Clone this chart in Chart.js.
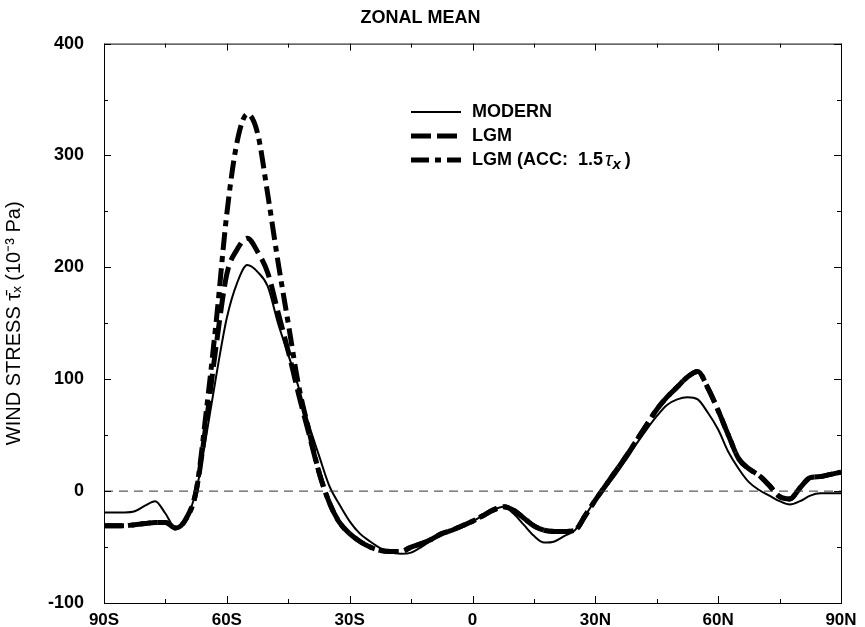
<!DOCTYPE html>
<html>
<head>
<meta charset="utf-8">
<script src="https://cdn.jsdelivr.net/npm/chart.js@4/dist/chart.umd.min.js"></script>
<style>
  html, body { margin: 0; padding: 0; background: #fff; }
  #wrap { width: 865px; height: 627px; }
</style>
</head>
<body>
<div id="wrap"><canvas id="chart"></canvas></div>
<script>
// latitude every 2.5 degrees, 90S .. 90N
const lats = []
for (let l = -90; l <= 90; l += 2.5) lats.push(l)

const modern = [
  -19, -19, -19, -18, -13, -9, -20, -33, -25, 0,
  50, 105, 155, 186, 202, 196, 183, 150, 122, 93,
  60, 32, 5, -12, -27, -38, -45, -51, -55, -56,
  -55, -50, -44, -39, -35, -31, -27, -22, -17, -14,
  -20, -30, -40, -46, -45, -40, -35, -22, -8, 3,
  15, 28, 42, 55, 67, 77, 82, 84, 82, 70,
  55, 35, 20, 8, 1, -4, -9, -12, -9, -4,
  -2, -2, -2
]

const lgm = [
  -31, -31, -31, -30, -29, -28, -28, -33, -25, 0,
  62, 133, 194, 216, 226, 214, 195, 160, 125, 87,
  52, 17, -10, -28, -38, -45, -50, -53, -54, -54,
  -50, -47, -43, -38, -35, -31, -27, -22, -17, -14,
  -17, -24, -31, -35, -36, -36, -35, -22, -8, 5,
  18, 31, 45, 59, 73, 84, 93, 102, 107, 92,
  72, 50, 29, 20, 14, 5, -5, -7, 3, 12,
  13, 15, 17
]

const lgmAcc = [
  -31, -31, -31, -30, -29, -28, -28, -33, -25, 0,
  72, 155, 248, 312, 337, 320, 265, 205, 150, 95,
  55, 17, -10, -28, -38, -45, -50, -53, -54, -54,
  -50, -47, -43, -38, -35, -31, -27, -22, -17, -14,
  -17, -24, -31, -35, -36, -36, -35, -22, -8, 5,
  18, 31, 45, 59, 73, 84, 93, 102, 107, 92,
  72, 50, 29, 20, 14, 5, -5, -7, 3, 12,
  13, 15, 17
]

const zeroLine = [0, 0]
const zeroLats = [-90, 90]

const xTickLabels = { '-90': '90S', '-60': '60S', '-30': '30S', '0': '0', '30': '30N', '60': '60N', '90': '90N' }
const yTickLabels = [-100, 0, 100, 200, 300, 400]

const pts = (xs, ys) => xs.map((x, i) => ({ x: x, y: ys[i] }))

const FONT = "'Liberation Sans', Arial, sans-serif"
Chart.defaults.color = '#000'
Chart.defaults.font.family = FONT

// frame, inward ticks and in-plot legend
const frame = {
  id: 'frame',
  afterDraw(chart) {
    const { ctx, chartArea: a, scales: { x, y } } = chart
    ctx.save()
    ctx.strokeStyle = '#000'
    ctx.lineWidth = 1
    ctx.strokeRect(a.left + 0.5, a.top + 0.5, a.right - a.left, a.bottom - a.top)
    ctx.beginPath()
    for (let v = -90; v <= 90; v += 15) {
      const px = Math.round(x.getPixelForValue(v)) + 0.5
      const len = v % 30 === 0 ? 7 : 4
      ctx.moveTo(px, a.bottom); ctx.lineTo(px, a.bottom - len)
      ctx.moveTo(px, a.top); ctx.lineTo(px, a.top + len)
    }
    for (let v = -100; v <= 400; v += 50) {
      const py = Math.round(y.getPixelForValue(v)) + 0.5
      const len = v % 100 === 0 ? 7 : 4
      ctx.moveTo(a.left, py); ctx.lineTo(a.left + len, py)
      ctx.moveTo(a.right, py); ctx.lineTo(a.right - len, py)
    }
    ctx.stroke()

    // legend
    const items = [
      { label: 'MODERN', width: 2, dash: [] },
      { label: 'LGM', width: 5, dash: [20, 6] },
      { label: 'LGM (ACC:  1.5', width: 5, dash: [18, 6, 6, 6] }
    ]
    const lx = 411, ly = 112, step = 24
    ctx.font = 'bold 18px ' + FONT
    ctx.textBaseline = 'middle'
    items.forEach((it, i) => {
      const yy = ly + i * step
      ctx.beginPath()
      ctx.lineWidth = it.width
      ctx.setLineDash(it.dash)
      ctx.moveTo(lx, yy); ctx.lineTo(lx + 50, yy)
      ctx.stroke()
      ctx.setLineDash([])
      ctx.fillStyle = '#000'
      ctx.fillText(it.label, lx + 61, yy)
      if (i === 2) {
        let tx = lx + 61 + ctx.measureText(it.label).width + 2
        ctx.font = 'italic 20px ' + FONT
        ctx.fillText('τ', tx, yy)
        tx += ctx.measureText('τ').width
        ctx.font = 'bold italic 15px ' + FONT
        ctx.fillText('x', tx, yy + 5)
        tx += ctx.measureText('x').width + 4
        ctx.font = 'bold 18px ' + FONT
        ctx.fillText(')', tx, yy)
      }
    })
    ctx.restore()
  }
}

new Chart(document.getElementById('chart'), {
  type: 'line',
  data: {
    datasets: [
      {
        label: 'zero',
        data: pts(zeroLats, zeroLine),
        borderColor: '#333',
        borderWidth: 1,
        borderDash: [9, 6],
        pointRadius: 0
      },
      {
        label: 'MODERN',
        data: pts(lats, modern),
        borderColor: '#000',
        borderWidth: 2,
        pointRadius: 0,
        cubicInterpolationMode: 'monotone'
      },
      {
        label: 'LGM',
        data: pts(lats, lgm),
        borderColor: '#000',
        borderWidth: 5,
        borderDash: [20, 7],
        pointRadius: 0,
        cubicInterpolationMode: 'monotone'
      },
      {
        label: 'LGM (ACC: 1.5 τx)',
        data: pts(lats, lgmAcc),
        borderColor: '#000',
        borderWidth: 5,
        borderDash: [18, 6, 6, 6],
        pointRadius: 0,
        cubicInterpolationMode: 'monotone'
      }
    ]
  },
  options: {
    responsive: true,
    maintainAspectRatio: false,
    animation: false,
    layout: { padding: { left: 0, right: 24, top: 0, bottom: 0 } },
    plugins: {
      legend: { display: false },
      tooltip: { enabled: false },
      title: {
        display: true,
        text: 'ZONAL MEAN',
        font: { size: 18, weight: 'bold' },
        padding: { top: 7, bottom: 15 }
      }
    },
    scales: {
      x: {
        type: 'linear',
        min: -90,
        max: 90,
        afterBuildTicks: s => { s.ticks = Object.keys(xTickLabels).map(v => ({ value: +v })) },
        afterFit: s => { s.height = 24 },
        grid: { display: false },
        border: { display: false },
        ticks: {
          padding: 1,
          font: { size: 17, weight: 'bold', lineHeight: 1 },
          maxRotation: 0,
          autoSkip: false,
          callback: v => xTickLabels[v]
        }
      },
      y: {
        min: -100,
        max: 400,
        afterBuildTicks: s => { s.ticks = yTickLabels.map(v => ({ value: v })) },
        afterFit: s => { s.width = 104 },
        grid: { display: false },
        border: { display: false },
        ticks: {
          padding: 12,
          font: { size: 18, weight: 'bold' }
        },
        title: {
          display: true,
          text: 'WIND STRESS τ̄ₓ (10⁻³ Pa)',
          font: { size: 20 },
          padding: { top: 2, bottom: 2 }
        }
      }
    }
  },
  plugins: [frame]
})
</script>
</body>
</html>
